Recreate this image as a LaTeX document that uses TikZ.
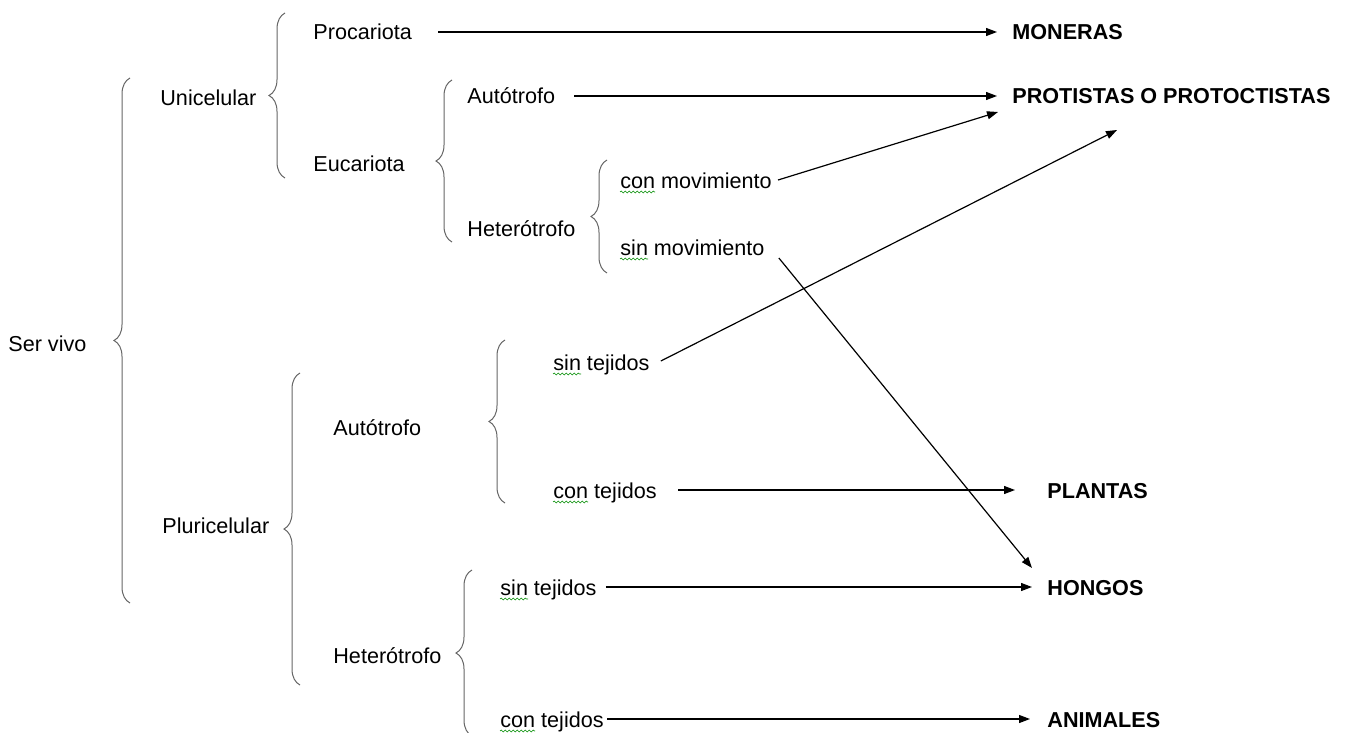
\documentclass[tikz,border=0pt]{standalone}
\usepackage{fontspec}
\setmainfont{Liberation Sans}
\usetikzlibrary{arrows.meta,decorations.pathreplacing,decorations.pathmorphing}

\begin{document}
\begin{tikzpicture}[x=.5pt,y=-.5pt,font=\fontsize{10.8pt}{13pt}\selectfont,
    every node/.style={anchor=base west,inner sep=0pt},
    llave/.style={decorate,decoration={brace,amplitude=8pt},draw=black!60,line width=.5pt},
    flecha/.style={-{Triangle[length=5.5pt,width=4pt]},line width=.6pt},
    onda/.style={decorate,decoration={snake,amplitude=.45pt,segment length=2pt},draw=green!55!black,line width=.3pt}]
        \useasboundingbox (0,0) rectangle (1354,733);
        \foreach \x/\t/\b in {130/78/603, 285/13/178, 452/80/242, 607/160/273, 300/373/685, 505/340/503, 472/570/736}
            \draw[llave] (\x,\b)--(\x,\t);

        \node (ser) at (8,351) {Ser vivo};
        \node (uni) at (160,105) {Unicelular};
        \node (pluri) at (162,533) {Pluricelular};
        \node (proc) at (313,40) {Procariota};
        \node (euc) at (313,171) {Eucariota};
        \node (autU) at (467,104) {Autótrofo};
        \node (hetU) at (467,236) {Heterótrofo};
        \node (conmov) at (620,188) {con movimiento};
        \node (sinmov) at (620,255) {sin movimiento};
        \node (autP) at (333,435) {Autótrofo};
        \node (hetP) at (333,663) {Heterótrofo};
        \node (sintejA) at (553,370) {sin tejidos};
        \node (contejA) at (553,498) {con tejidos};
        \node (sintejB) at (500,595) {sin tejidos};
        \node (contejB) at (500,727) {con tejidos};

        \node (mon) at (1012,40) {\bfseries MONERAS};
        \node (prot) at (1012,104) {\bfseries PROTISTAS O PROTOCTISTAS};
        \node (plan) at (1047,498) {\bfseries PLANTAS};
        \node (hong) at (1047,595) {\bfseries HONGOS};
        \node (anim) at (1047,727) {\bfseries ANIMALES};

        \draw[flecha] ([shift={(26,-8)}]proc.base east) -- ([shift={(-15,-8)}]mon.base west);
        \draw[flecha] ([shift={(19,-8)}]autU.base east) -- ([shift={(-15,-8)}]prot.base west);
        \draw[flecha] ([shift={(6,-8)}]conmov.base east) -- ([shift={(-14,8)}]prot.base west);
        \draw[flecha] ([shift={(11,-9)}]sintejA.base east) -- ([shift={(105,26)}]prot.base west);
        \draw[flecha] ([shift={(14,3)}]sinmov.base east) -- ([shift={(-15,-27)}]hong.base west);
        \draw[flecha] ([shift={(21,-8)}]contejA.base east) -- ([shift={(-32,-8)}]plan.base west);
        \draw[flecha] ([shift={(9,-8)}]sintejB.base east) -- ([shift={(-15,-8)}]hong.base west);
        \draw[flecha] ([shift={(3,-8)}]contejB.base east) -- ([shift={(-17,-8)}]anim.base west);

        \foreach \n/\w in {conmov/35,sinmov/28,sintejA/28,contejA/35,sintejB/28,contejB/35}
            \draw[onda] ([shift={(0,4)}]\n.base west) -- ++(\w,0);
\end{tikzpicture}
\end{document}
